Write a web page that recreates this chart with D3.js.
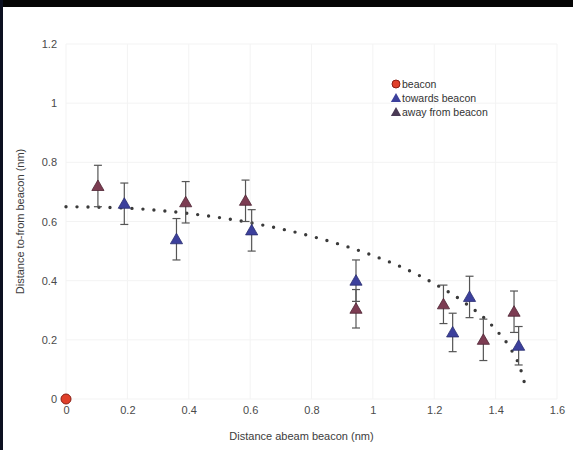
<!DOCTYPE html>
<html>
<head>
<meta charset="utf-8">
<script src="https://cdn.jsdelivr.net/npm/d3@7"></script>
<style>
  body { margin: 0; background: #fff; }
  svg { display: block; font-family: "Liberation Sans", Arial, sans-serif; }
</style>
</head>
<body>
<svg width="573" height="450"></svg>
<script>
// data
var xTicks = [0, 0.2, 0.4, 0.6, 0.8, 1, 1.2, 1.4, 1.6];
var yTicks = [0, 0.2, 0.4, 0.6, 0.8, 1, 1.2];

var beacon = [[0, 0]];

// [x, y, error]
var towards = [
    [0.19, 0.66, 0.07],
    [0.36, 0.54, 0.07],
    [0.605, 0.57, 0.07],
    [0.945, 0.40, 0.07],
    [1.26, 0.225, 0.065],
    [1.315, 0.345, 0.07],
    [1.475, 0.18, 0.065]
];
var away = [
    [0.104, 0.72, 0.07],
    [0.39, 0.665, 0.07],
    [0.585, 0.67, 0.07],
    [0.945, 0.305, 0.065],
    [1.23, 0.32, 0.065],
    [1.36, 0.20, 0.07],
    [1.46, 0.295, 0.07]
];

// dotted trend line
var trend = [
    [0, 0.65], [0.2, 0.645], [0.4, 0.627], [0.6, 0.596], [0.8, 0.55],
    [1.0, 0.485], [1.1, 0.443], [1.2, 0.39], [1.3, 0.325], [1.4, 0.235],
    [1.45, 0.168], [1.48, 0.105], [1.5, 0.03]
];

var legendItems = ['beacon', 'towards beacon', 'away from beacon'];

var x = d3.scaleLinear().domain([0, 1.6]).range([66, 557]);
var y = d3.scaleLinear().domain([0, 1.2]).range([399, 44]);

var svg = d3.select('svg');

/////////////////////////////
// FRAME
/////////////////////////////
svg.append('rect').attr('x', 0).attr('y', 0).attr('width', 573).attr('height', 7).attr('fill', '#050505');
svg.append('rect').attr('x', 0).attr('y', 0).attr('width', 3).attr('height', 450).attr('fill', '#0c1020');

/////////////////////////////
// GRID
/////////////////////////////
svg.append('g')
    .selectAll('line')
    .data(xTicks)
    .enter()
    .append('line')
        .attr('x1', (d) => x(d)).attr('x2', (d) => x(d))
        .attr('y1', y(1.2)).attr('y2', y(0))
        .attr('stroke', '#f3f3f3');

svg.append('g')
    .selectAll('line')
    .data(yTicks)
    .enter()
    .append('line')
        .attr('x1', x(0)).attr('x2', x(1.6))
        .attr('y1', (d) => y(d)).attr('y2', (d) => y(d))
        .attr('stroke', '#f3f3f3');

/////////////////////////////
// AXES
/////////////////////////////
var xAxis = svg.append('g')
    .attr('transform', 'translate(0,' + (y(0) + 4) + ')')
    .call(d3.axisBottom(x).tickValues(xTicks).tickSize(0).tickFormat(d3.format('')));
xAxis.select('.domain').remove();
xAxis.selectAll('text').attr('fill', '#4a4a4a').attr('font-size', 11).attr('font-family', '"Liberation Sans", Arial, sans-serif');

var yAxis = svg.append('g')
    .attr('transform', 'translate(' + (x(0) - 6) + ',0)')
    .call(d3.axisLeft(y).tickValues(yTicks).tickSize(0).tickFormat(d3.format('')));
yAxis.select('.domain').remove();
yAxis.selectAll('text').attr('fill', '#4a4a4a').attr('font-size', 11).attr('font-family', '"Liberation Sans", Arial, sans-serif');

svg.append('text')
    .attr('x', (x(0) + x(1.6)) / 2 - 10)
    .attr('y', 440)
    .attr('text-anchor', 'middle')
    .attr('font-size', 11)
    .attr('fill', '#3c3c3c')
    .text('Distance abeam beacon (nm)');

svg.append('text')
    .attr('transform', 'translate(24,' + y(0.6) + ') rotate(-90)')
    .attr('text-anchor', 'middle')
    .attr('font-size', 11)
    .attr('fill', '#3c3c3c')
    .text('Distance to-from beacon (nm)');

/////////////////////////////
// TREND
/////////////////////////////
var line = d3.line()
    .x((d) => x(d[0]))
    .y((d) => y(d[1]))
    .curve(d3.curveMonotoneX);

svg.append('path')
    .datum(trend)
    .attr('d', line)
    .attr('fill', 'none')
    .attr('stroke', '#3a3a3a')
    .attr('stroke-width', 3.4)
    .attr('stroke-linecap', 'round')
    .attr('stroke-dasharray', '0 11');

/////////////////////////////
// POINTS
/////////////////////////////
var tri = d3.symbol().type(d3.symbolTriangle).size(64);

function drawSeries(data, fill, stroke) {
    var g = svg.append('g');
    var bars = g.selectAll('.err').data(data).enter().append('g');
    bars.append('line')
        .attr('x1', (d) => x(d[0])).attr('x2', (d) => x(d[0]))
        .attr('y1', (d) => y(d[1] + d[2])).attr('y2', (d) => y(d[1] - d[2]))
        .attr('stroke', '#555').attr('stroke-width', 1.2);
    [1, -1].forEach((s) => {
        bars.append('line')
            .attr('x1', (d) => x(d[0]) - 4).attr('x2', (d) => x(d[0]) + 4)
            .attr('y1', (d) => y(d[1] + s * d[2])).attr('y2', (d) => y(d[1] + s * d[2]))
            .attr('stroke', '#555').attr('stroke-width', 1.2);
    });
    g.selectAll('.mk').data(data).enter().append('path')
        .attr('d', tri)
        .attr('transform', (d) => 'translate(' + x(d[0]) + ',' + (y(d[1]) + 1) + ')')
        .attr('fill', fill)
        .attr('stroke', stroke)
        .attr('stroke-width', 0.8);
}

drawSeries(towards, '#3c409c', '#2a2d70');
drawSeries(away, '#7c3c52', '#4e2434');

svg.append('g')
    .selectAll('circle')
    .data(beacon)
    .enter()
    .append('circle')
        .attr('cx', (d) => x(d[0]))
        .attr('cy', (d) => y(d[1]))
        .attr('r', 5)
        .attr('fill', '#e0402a')
        .attr('stroke', '#8a1e14')
        .attr('stroke-width', 1);

/////////////////////////////
// LEGEND
/////////////////////////////
var legend = svg.append('g').attr('transform', 'translate(396,84)');
var leg = legend.selectAll('g').data(legendItems).enter().append('g')
    .attr('transform', (d, i) => 'translate(0,' + i * 14 + ')');
leg.each(function(d, i) {
    var el = d3.select(this);
    if (i === 0) {
        el.append('circle').attr('r', 4).attr('fill', '#e0402a').attr('stroke', '#8a1e14');
    } else {
        el.append('path').attr('d', d3.symbol().type(d3.symbolTriangle).size(45))
            .attr('transform', 'translate(0,1)')
            .attr('fill', i === 1 ? '#3c409c' : '#4a3a55');
    }
});
leg.append('text')
    .attr('x', 6)
    .attr('y', 4)
    .attr('font-size', 10.5)
    .attr('fill', '#333')
    .text((d) => d);
</script>
</body>
</html>
